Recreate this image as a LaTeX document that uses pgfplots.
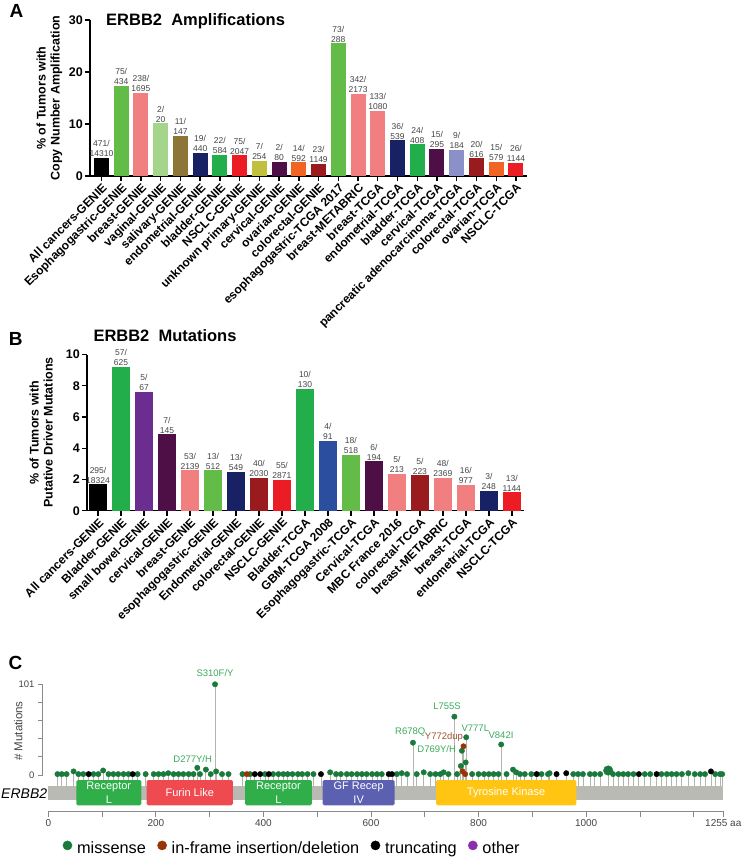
\documentclass[border=0pt]{standalone}
\usepackage{pgfplots}
\pgfplotsset{compat=1.18}
\usepackage{pgfplotstable}
\usepackage{fontspec}
\setmainfont{Liberation Sans}

\definecolor{cBlack}{HTML}{000000}
\definecolor{cGreenL}{HTML}{63BC47}
\definecolor{cGreenD}{HTML}{21AE4B}
\definecolor{cSalmon}{HTML}{F27F7F}
\definecolor{cLtGreen}{HTML}{A5D58B}
\definecolor{cOlive}{HTML}{8C7536}
\definecolor{cNavy}{HTML}{172163}
\definecolor{cRed}{HTML}{EC1C24}
\definecolor{cYellow}{HTML}{C0C03E}
\definecolor{cDkPurple}{HTML}{4E0E46}
\definecolor{cOrange}{HTML}{F26424}
\definecolor{cDkRed}{HTML}{9A1B1E}
\definecolor{cLavender}{HTML}{8B90C9}
\definecolor{cPurple}{HTML}{6B2D8F}
\definecolor{cBlue}{HTML}{2C4E9F}
\definecolor{misGreen}{HTML}{1A7A3C}
\definecolor{labGreen}{HTML}{3BAA5C}
\definecolor{inBrown}{HTML}{993404}
\definecolor{labBrown}{HTML}{A0522D}
\definecolor{othPurple}{HTML}{8B2FAE}
\definecolor{stemGray}{HTML}{B5B5B0}
\definecolor{geneGray}{HTML}{BABAB5}
\definecolor{domGreen}{HTML}{2FAE4A}
\definecolor{domRed}{HTML}{EE4A50}
\definecolor{domBlue}{HTML}{5C60B0}
\definecolor{domYellow}{HTML}{FFC512}
\definecolor{axGray}{HTML}{8A8A8A}
\definecolor{txtGray}{HTML}{444444}

\newcommand{\fs}[1]{\fontsize{#1}{#1}\selectfont}
\newcommand{\abar}[5]{\addplot[ybar, bar width=15pt, bar shift=0pt, fill=#3, draw=none, nodes near coords={#4/\\#5}] coordinates {(#1,#2)};}
\newcommand{\bbar}[5]{\addplot[ybar, bar width=17.5pt, bar shift=0pt, fill=#3, draw=none, nodes near coords={#4/\\#5}] coordinates {(#1,#2)};}

\pgfplotstableread{
aa c
17 1
25 1
34 1
47 4
56 1
65 1
84 1
93 1
102 5
112 1
121 1
130 1
140 1
149 1
166 1
181 1
196 1
205 1
214 1
223 2
233 1
242 1
251 1
261 1
270 1
277 8
282 1
293 6
302 1
310 101
312 4
323 1
335 1
361 1
375 1
403 1
418 1
428 1
437 1
445 1
454 1
464 1
472 1
482 1
493 1
524 3
535 1
544 1
555 1
564 1
574 1
583 1
592 1
602 1
611 1
620 1
648 1
657 2
667 1
678 36
685 1
698 3
710 1
720 1
729 1
735 3
744 1
755 65
760 1
767 10
769 27
776 14
777 42
788 1
800 1
810 1
819 1
828 1
837 1
842 34
852 1
864 6
870 3
877 1
886 1
898 1
917 1
929 1
932 2
976 1
985 1
994 1
1007 1
1016 1
1026 1
1050 1
1060 1
1069 1
1078 1
1088 1
1109 1
1119 1
1140 1
1150 1
1159 1
1168 1
1178 1
1190 2
1202 1
1212 1
1221 1
1240 1
1249 1
1253 1
}\missense

\pgfplotstableread{
aa c
1041 5
}\missenseBig

\pgfplotstableread{
aa c
75 1
157 1
384 1
394 1
410 1
507 1
633 1
639 1
908 1
945 1
963 2
1098 1
1131 1
1232 4
}\truncating

\pgfplotstableread{
aa c
369 1
770 4
772 32
775 1
}\inframe

\begin{document}
\begin{tikzpicture}
\path[use as bounding box] (0pt,0pt) rectangle (744pt,-859pt);

% ---------------- Panel A ----------------
\node[font=\bfseries\fs{19}, inner sep=0pt] at (16.5pt,-11pt) {A};
\node[font=\bfseries\fs{16.5}, inner sep=0pt, anchor=west] at (106pt,-21.7pt) {ERBB2~~Amplifications};
\begin{axis}[
  at={(90pt,-176pt)}, anchor=south west,
  scale only axis, width=437pt, height=156pt,
  xmin=-0.58, xmax=21.56, ymin=0, ymax=30,
  axis x line*=bottom, axis y line*=left,
  axis line style={line width=1.4pt, black},
  every tick/.style={black, line width=1.4pt},
  tick align=outside, major tick length=5pt,
  xtick={0,...,21},
  xticklabels={All cancers-GENIE, Esophagogastric-GENIE, breast-GENIE, vaginal-GENIE, salivary-GENIE, endometrial-GENIE, bladder-GENIE, NSCLC-GENIE, unknown primary-GENIE, cervical-GENIE, ovarian-GENIE, colorectal-GENIE, esophagogastric-TCGA 2017, breast-METABRIC, breast-TCGA, endometrial-TCGA, bladder-TCGA, cervical-TCGA, pancreatic adenocarcinoma-TCGA, colorectal-TCGA, ovarian-TCGA, NSCLC-TCGA},
  x tick label style={rotate=45, anchor=north east, font=\bfseries\fs{12}, inner sep=1pt},
  ytick={0,10,20,30},
  y tick label style={font=\bfseries\fs{12.5}, inner sep=2pt},
  /pgf/number format/assume math mode=true,
  ylabel={\% of Tumors with\\Copy Number Amplification},
  every axis y label/.style={at={(axis description cs:-0.0927,0.5)}, rotate=90, anchor=center, align=center, font=\bfseries\fontsize{12.5}{14}\selectfont},
  clip=false,
  every node near coord/.append style={align=center, font=\fontsize{8.5}{10}\selectfont, text=txtGray, inner sep=1pt},
]
\abar{0}{3.5}{cBlack}{471}{14310}
\abar{1}{17.4}{cGreenL}{75}{434}
\abar{2}{16.0}{cSalmon}{238}{1695}
\abar{3}{10.1}{cLtGreen}{2}{20}
\abar{4}{7.7}{cOlive}{11}{147}
\abar{5}{4.5}{cNavy}{19}{440}
\abar{6}{4.0}{cGreenD}{22}{584}
\abar{7}{3.95}{cRed}{75}{2047}
\abar{8}{2.95}{cYellow}{7}{254}
\abar{9}{2.75}{cDkPurple}{2}{80}
\abar{10}{2.6}{cOrange}{14}{592}
\abar{11}{2.3}{cDkRed}{23}{1149}
\abar{12}{25.5}{cGreenL}{73}{288}
\abar{13}{15.8}{cSalmon}{342}{2173}
\abar{14}{12.5}{cSalmon}{133}{1080}
\abar{15}{6.85}{cNavy}{36}{539}
\abar{16}{6.1}{cGreenD}{24}{408}
\abar{17}{5.25}{cDkPurple}{15}{295}
\abar{18}{5.05}{cLavender}{9}{184}
\abar{19}{3.4}{cDkRed}{20}{616}
\abar{20}{2.75}{cOrange}{15}{579}
\abar{21}{2.5}{cRed}{26}{1144}
\end{axis}

% ---------------- Panel B ----------------
\node[font=\bfseries\fs{19}, inner sep=0pt] at (15.8pt,-339pt) {B};
\node[font=\bfseries\fs{16.5}, inner sep=0pt, anchor=west] at (93.3pt,-335.7pt) {ERBB2~~Mutations};
\begin{axis}[
  at={(87pt,-510.7pt)}, anchor=south west,
  scale only axis, width=437pt, height=156.2pt,
  xmin=-0.48, xmax=18.53, ymin=0, ymax=10,
  axis x line*=bottom, axis y line*=left,
  axis line style={line width=1.4pt, black},
  every tick/.style={black, line width=1.4pt},
  tick align=outside, major tick length=5pt,
  xtick={0,...,18},
  xticklabels={All cancers-GENIE, Bladder-GENIE, small bowel-GENIE, cervical-GENIE, breast-GENIE, esophagogastric-GENIE, Endometrial-GENIE, colorectal-GENIE, NSCLC-GENIE, Bladder-TCGA, GBM-TCGA 2008, Esophagogastric-TCGA, Cervical-TCGA, MBC France 2016, colorectal-TCGA, breast-METABRIC, breast-TCGA, endometrial-TCGA, NSCLC-TCGA},
  x tick label style={rotate=45, anchor=north east, font=\bfseries\fs{12}, inner sep=1pt},
  ytick={0,2,4,6,8,10},
  y tick label style={font=\bfseries\fs{12.5}, inner sep=2pt},
  /pgf/number format/assume math mode=true,
  ylabel={\% of Tumors with\\Putative Driver Mutations},
  every axis y label/.style={at={(axis description cs:-0.105,0.5)}, rotate=90, anchor=center, align=center, font=\bfseries\fontsize{12.5}{14}\selectfont},
  clip=false,
  every node near coord/.append style={align=center, font=\fontsize{8.5}{10}\selectfont, text=txtGray, inner sep=1pt},
]
\bbar{0}{1.68}{cBlack}{295}{18324}
\bbar{1}{9.21}{cGreenD}{57}{625}
\bbar{2}{7.59}{cPurple}{5}{67}
\bbar{3}{4.88}{cDkPurple}{7}{145}
\bbar{4}{2.58}{cSalmon}{53}{2139}
\bbar{5}{2.58}{cGreenL}{13}{512}
\bbar{6}{2.47}{cNavy}{13}{549}
\bbar{7}{2.09}{cDkRed}{40}{2030}
\bbar{8}{1.98}{cRed}{55}{2871}
\bbar{9}{7.78}{cGreenD}{10}{130}
\bbar{10}{4.48}{cBlue}{4}{91}
\bbar{11}{3.56}{cGreenL}{18}{518}
\bbar{12}{3.16}{cDkPurple}{6}{194}
\bbar{13}{2.35}{cSalmon}{5}{213}
\bbar{14}{2.26}{cDkRed}{5}{223}
\bbar{15}{2.09}{cSalmon}{48}{2369}
\bbar{16}{1.66}{cSalmon}{16}{977}
\bbar{17}{1.26}{cNavy}{3}{248}
\bbar{18}{1.17}{cRed}{13}{1144}
\end{axis}

% ---------------- Panel C ----------------
\node[font=\bfseries\fs{19}, inner sep=0pt] at (15.5pt,-662.5pt) {C};
\node[font=\fs{11.5}, text=txtGray, rotate=90, inner sep=0pt] at (18.3pt,-731pt) {\# Mutations};
\node[font=\itshape\fs{14}, inner sep=0pt] at (24.2pt,-794pt) {ERBB2};
\begin{axis}[
  at={(48.3pt,-811pt)}, anchor=south west,
  scale only axis, width=675pt, height=126.7pt,
  xmin=0, xmax=1255, ymin=-27.85, ymax=113.25,
  axis x line*=bottom, axis y line=none,
  axis line style={line width=0.8pt, axGray},
  every tick/.style={axGray, line width=0.8pt},
  tick align=outside, major tick length=6pt,
  xtick={0,100,200,300,400,500,600,700,800,900,1000,1100,1200,1255},
  xticklabels={0,,200,,400,,600,,800,,1000,,,1255 aa},
  x tick label style={font=\fs{10}, text=txtGray, inner sep=2pt},
  clip=false,
  legend columns=4,
  legend style={at={(axis description cs:0.0213,-0.292)}, anchor=west, draw=none, fill=none, inner sep=0pt, outer sep=0pt, font=\fs{16.3}, nodes={inner sep=0pt},
    /tikz/every odd column/.append style={column sep=4.8pt},
    /tikz/every even column/.append style={column sep=11.4pt}},
]
\addlegendimage{legend image code/.code={\fill[misGreen] (0pt,0.33em) circle (4.6pt);}}
\addlegendentry{missense}
\addlegendimage{legend image code/.code={\fill[inBrown] (0pt,0.33em) circle (4.6pt);}}
\addlegendentry{in-frame insertion/deletion}
\addlegendimage{legend image code/.code={\fill[black] (0pt,0.33em) circle (4.6pt);}}
\addlegendentry{truncating}
\addlegendimage{legend image code/.code={\fill[othPurple] (0pt,0.33em) circle (4.6pt);}}
\addlegendentry{other}

% stems
\addplot[forget plot, ycomb, stemGray, line width=0.8pt, mark=none] table[x=aa, y expr=\thisrow{c}+12.25] {\missense};
\addplot[forget plot, ycomb, stemGray, line width=0.8pt, mark=none] table[x=aa, y expr=\thisrow{c}+12.25] {\missenseBig};
\addplot[forget plot, ycomb, stemGray, line width=0.8pt, mark=none] table[x=aa, y expr=\thisrow{c}+12.25] {\truncating};
\addplot[forget plot, ycomb, stemGray, line width=0.8pt, mark=none] table[x=aa, y expr=\thisrow{c}+12.25] {\inframe};
% gene bar and domains
\addplot[forget plot, fill=geneGray, draw=none] coordinates {(0,0) (1255,0) (1255,-15.59) (0,-15.59)} -- cycle;
\addplot[forget plot, fill=domGreen, draw=none, rounded corners=1.5pt] coordinates {(52,6.68) (173,6.68) (173,-21.49) (52,-21.49)} -- cycle;
\addplot[forget plot, fill=domRed, draw=none, rounded corners=1.5pt] coordinates {(183,6.68) (343,6.68) (343,-21.49) (183,-21.49)} -- cycle;
\addplot[forget plot, fill=domGreen, draw=none, rounded corners=1.5pt] coordinates {(366,6.68) (490,6.68) (490,-21.49) (366,-21.49)} -- cycle;
\addplot[forget plot, fill=domBlue, draw=none, rounded corners=1.5pt] coordinates {(510,6.68) (644,6.68) (644,-21.49) (510,-21.49)} -- cycle;
\addplot[forget plot, fill=domYellow, draw=none, rounded corners=1.5pt] coordinates {(721,6.68) (982,6.68) (982,-21.49) (721,-21.49)} -- cycle;
% heads
\addplot[forget plot, only marks, mark=*, mark size=2.7pt, color=misGreen] table[x=aa, y expr=\thisrow{c}+12.25] {\missense};
\addplot[forget plot, only marks, mark=*, mark size=4.8pt, color=misGreen] table[x=aa, y expr=\thisrow{c}+12.25] {\missenseBig};
\addplot[forget plot, only marks, mark=*, mark size=2.7pt, color=black] table[x=aa, y expr=\thisrow{c}+12.25] {\truncating};
\addplot[forget plot, only marks, mark=*, mark size=2.7pt, color=inBrown] table[x=aa, y expr=\thisrow{c}+12.25] {\inframe};

% domain labels
\node[font=\fontsize{11}{13.3}\selectfont, text=white, align=center] at (axis cs:112.5,-7.4) {Receptor\\L};
\node[font=\fs{11}, text=white] at (axis cs:263,-7.4) {Furin Like};
\node[font=\fontsize{11}{13.3}\selectfont, text=white, align=center] at (axis cs:428,-7.4) {Receptor\\L};
\node[font=\fontsize{11}{13.3}\selectfont, text=white, align=center] at (axis cs:577,-7.4) {GF Recep\\IV};
\node[font=\fs{11}, text=white] at (axis cs:851,-7.4) {Tyrosine Kinase};

% mutation labels
\node[font=\fs{9.5}, text=labGreen] at (axis cs:310,125.5) {S310F/Y};
\node[font=\fs{9.5}, text=labGreen] at (axis cs:268.5,29.7) {D277Y/H};
\node[font=\fs{9.5}, text=labGreen] at (axis cs:673,59.8) {R678Q};
\node[font=\fs{9.5}, text=labGreen] at (axis cs:741.3,88.3) {L755S};
\node[font=\fs{9.5}, text=labBrown] at (axis cs:735.7,54.9) {Y772dup};
\node[font=\fs{9.5}, text=labGreen] at (axis cs:722.1,41.2) {D769Y/H};
\node[font=\fs{9.5}, text=labGreen] at (axis cs:793.9,63.8) {V777L};
\node[font=\fs{9.5}, text=labGreen] at (axis cs:841.7,56.8) {V842I};

% y axis of lollipop panel
\draw[axGray, line width=0.8pt] (axis cs:-10.4,12.25) -- (axis cs:-10.4,113.25);
\draw[axGray, line width=0.8pt] (axis cs:-10.4,12.25) -- ++(-5pt,0pt);
\draw[axGray, line width=0.8pt] (axis cs:-10.4,32.45) -- ++(-5pt,0pt);
\draw[axGray, line width=0.8pt] (axis cs:-10.4,52.65) -- ++(-5pt,0pt);
\draw[axGray, line width=0.8pt] (axis cs:-10.4,72.85) -- ++(-5pt,0pt);
\draw[axGray, line width=0.8pt] (axis cs:-10.4,93.05) -- ++(-5pt,0pt);
\draw[axGray, line width=0.8pt] (axis cs:-10.4,113.25) -- ++(-5pt,0pt);
\node[anchor=east, font=\fs{9.5}, text=txtGray, inner sep=0pt] at ([xshift=-8pt]axis cs:-10.4,12.25) {0};
\node[anchor=east, font=\fs{9.5}, text=txtGray, inner sep=0pt] at ([xshift=-8pt]axis cs:-10.4,113.25) {101};
\end{axis}
\end{tikzpicture}
\end{document}
